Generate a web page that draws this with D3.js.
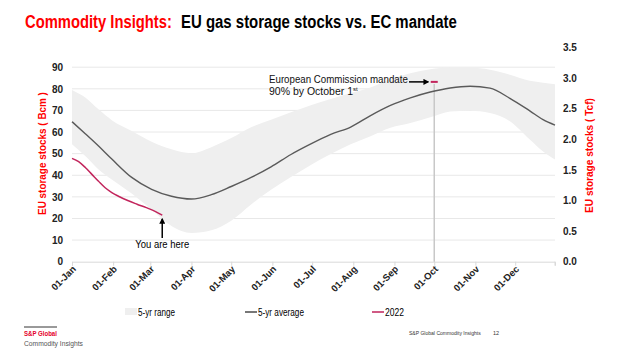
<!DOCTYPE html>
<html lang="en">
<head>
<meta charset="UTF-8">
<title>EU gas storage stocks vs. EC mandate</title>
<style>
  html, body { margin: 0; padding: 0; background: #fff; }
  svg { display: block; font-family: "Liberation Sans", Arial, sans-serif; }
</style>
</head>
<body>
<svg id="chart" width="624" height="351"></svg>
<script src="https://d3js.org/d3.v7.min.js"></script>
<script>
// day-of-year (0 = 01-Jan) sample points
const rangeDays = [0, 10, 20, 30, 45, 60, 75, 90, 105, 120, 135, 150, 165, 180, 195, 210, 225, 240, 255, 270, 285, 300, 315, 330, 345, 355, 364];
const rangeHigh = [79.5, 76.0, 70.5, 65.5, 60.5, 55.5, 52.0, 50.2, 53.0, 57.2, 62.2, 65.7, 69.2, 72.4, 75.3, 78.0, 80.6, 84.5, 87.2, 89.0, 89.8, 89.8, 88.8, 86.5, 83.7, 82.8, 82.1];
const rangeLow  = [54.3, 48.9, 42.7, 38.0, 31.5, 24.0, 16.5, 13.3, 14.5, 19.0, 26.5, 33.3, 39.2, 44.8, 49.8, 54.3, 58.1, 62.0, 64.2, 66.8, 69.5, 69.9, 68.8, 65.0, 56.5, 51.0, 47.3];
const avg5yr    = [64.8, 59.2, 53.5, 47.5, 39.0, 33.5, 30.3, 29.0, 31.0, 34.8, 39.0, 43.9, 49.6, 54.5, 58.9, 62.3, 67.6, 72.3, 75.8, 78.5, 80.4, 81.2, 80.3, 75.6, 69.8, 65.7, 63.2];

const days2022 = [0, 5, 10, 15, 20, 25, 30, 35, 42, 49, 56, 63, 68];
const vals2022 = [47.8, 46.3, 43.6, 40.4, 37.2, 34.2, 32.0, 30.3, 28.3, 26.6, 25.0, 23.2, 21.5];

const mandateDay = 273;      // 01-Oct
const mandateValue = 83.2;   // Bcm

const bcmTicks = [0, 10, 20, 30, 40, 50, 60, 70, 80, 90];
const tcfTicks = [0, 0.5, 1.0, 1.5, 2.0, 2.5, 3.0, 3.5];
const legendLabels = ["5-yr range", "5-yr average", "2022"];

const BCM_PER_TCF = 28.317;
const RED = "#ff0000";
const PINK = "#c2255c";

const svg = d3.select("#chart");
const plotL = 72, plotR = 555, plotT = 47.5, plotB = 261.7;

const start = new Date(2022, 0, 1);
const toDate = d => d3.timeDay.offset(start, d);

const x = d3.scaleTime().domain([start, new Date(2022, 11, 31)]).range([plotL, plotR]);
const yTcf = d3.scaleLinear().domain([0, 3.5]).range([plotB, plotT]);
const y = d3.scaleLinear().domain([0, 3.5 * BCM_PER_TCF]).range([plotB, plotT]);

// no narrow font installed: scale text horizontally to the width it has in the slide
function narrow(sel, px, py, w, rot) {
  const len = sel.node().getComputedTextLength();
  sel.attr("x", 0).attr("y", 0)
    .attr("transform", `translate(${px},${py})${rot ? ` rotate(${rot})` : ""} scale(${w / len},1)`);
}
function addText(px, py, w, str, size, opts = {}) {
  const t = svg.append("text").attr("font-size", size)
    .attr("font-weight", opts.bold ? "bold" : null)
    .attr("fill", opts.fill || "#000")
    .attr("text-anchor", opts.anchor || null)
    .text(str);
  narrow(t, px, py, w, opts.rot);
  return t;
}

// title
addText(25, 28, 147, "Commodity Insights:", 18.5, { bold: true, fill: RED });
addText(181, 28, 276, "EU gas storage stocks vs. EC mandate", 18.5, { bold: true });

// gridlines
svg.append("g").selectAll("line").data(bcmTicks.slice(1)).join("line")
  .attr("x1", plotL).attr("x2", plotR)
  .attr("y1", d => y(d)).attr("y2", d => y(d))
  .attr("stroke", "#e8e8e8").attr("stroke-width", 1);

// 5-yr range band
const rangeData = rangeDays.map((d, i) => ({ d, hi: rangeHigh[i], lo: rangeLow[i], avg: avg5yr[i] }));
svg.append("path").datum(rangeData)
  .attr("fill", "#efefef")
  .attr("d", d3.area().curve(d3.curveMonotoneX)
    .x(p => x(toDate(p.d))).y0(p => y(p.lo)).y1(p => y(p.hi)));

// x axis
const xAxis = svg.append("g").attr("transform", `translate(0,${plotB})`)
  .call(d3.axisBottom(x).ticks(d3.timeMonth.every(1)).tickFormat(d3.timeFormat("%d-%b")).tickSizeOuter(0).tickSize(4));
xAxis.select(".domain").attr("stroke", "#d9d9d9");
xAxis.selectAll(".tick line").attr("stroke", "#d9d9d9");
xAxis.selectAll(".tick text")
  .attr("font-family", null).attr("font-size", 9.5).attr("font-weight", "bold").attr("fill", "#222")
  .attr("text-anchor", "end").attr("dx", 0).attr("dy", 0).attr("y", 0)
  .attr("transform", "translate(4,8) rotate(-45)");
svg.append("line").attr("x1", plotR).attr("x2", plotR).attr("y1", plotB).attr("y2", plotB + 4).attr("stroke", "#d9d9d9");

// left axis
const yAxisL = svg.append("g").attr("transform", `translate(${plotL - 9},0)`)
  .call(d3.axisLeft(y).tickValues(bcmTicks).tickSize(0).tickPadding(0));
yAxisL.select(".domain").remove();
yAxisL.selectAll("text").attr("font-family", null).attr("font-size", 10).attr("font-weight", "bold").attr("fill", "#222");

// right axis
const yAxisR = svg.append("g").attr("transform", `translate(563,0)`)
  .call(d3.axisRight(yTcf).tickValues(tcfTicks).tickFormat(d3.format(".1f")).tickSize(0).tickPadding(0));
yAxisR.select(".domain").remove();
yAxisR.selectAll("text").attr("font-family", null).attr("font-size", 10).attr("font-weight", "bold").attr("fill", "#222");

// axis titles
addText(46, 153.5, 123, "EU storage stocks ( Bcm )", 10.5, { bold: true, fill: RED, anchor: "middle", rot: -90 });
addText(593, 155.5, 115, "EU storage stocks ( Tcf)", 10.5, { bold: true, fill: RED, anchor: "middle", rot: -90 });

// mandate marker
const mx = x(toDate(mandateDay)), my = y(mandateValue);
svg.append("line").attr("x1", mx).attr("x2", mx).attr("y1", my + 2).attr("y2", plotB)
  .attr("stroke", "#c8c8c8").attr("stroke-width", 1.5);
svg.append("line").attr("x1", mx - 3.5).attr("x2", mx + 3.5).attr("y1", my).attr("y2", my)
  .attr("stroke", PINK).attr("stroke-width", 2);

// 5-yr average
svg.append("path").datum(rangeData)
  .attr("fill", "none").attr("stroke", "#5a5a5a").attr("stroke-width", 1.4)
  .attr("d", d3.line().curve(d3.curveMonotoneX).x(p => x(toDate(p.d))).y(p => y(p.avg)));

// 2022
const data2022 = days2022.map((d, i) => ({ d, v: vals2022[i] }));
svg.append("path").datum(data2022)
  .attr("fill", "none").attr("stroke", PINK).attr("stroke-width", 1.5)
  .attr("d", d3.line().curve(d3.curveMonotoneX).x(p => x(toDate(p.d))).y(p => y(p.v)));

// arrows
svg.append("defs").append("marker").attr("id", "arrow").attr("viewBox", "0 0 10 10")
  .attr("refX", 8).attr("refY", 5).attr("markerWidth", 4).attr("markerHeight", 4)
  .attr("orient", "auto")
  .append("path").attr("d", "M0,0 L10,5 L0,10 z").attr("fill", "#000");

const lastX = x(toDate(days2022[days2022.length - 1]));
svg.append("line").attr("x1", lastX).attr("x2", lastX).attr("y1", 238).attr("y2", 219)
  .attr("stroke", "#000").attr("stroke-width", 1.5).attr("marker-end", "url(#arrow)");
addText(lastX, 248, 54, "You are here", 10, { anchor: "middle" });

svg.append("line").attr("x1", 409).attr("x2", mx - 6).attr("y1", my).attr("y2", my)
  .attr("stroke", "#000").attr("stroke-width", 1.5).attr("marker-end", "url(#arrow)");
addText(269, 82.5, 139, "European Commission mandate", 10.5, { fill: "#111" });
const ann2 = svg.append("text").attr("x", 269).attr("y", 94.5).attr("font-size", 10.5).attr("fill", "#111");
ann2.append("tspan").text("90% by October 1");
ann2.append("tspan").attr("dy", -4).attr("font-size", 6).text("st");

// legend
const legX = [125, 245, 372];
const legW = [37, 46, 19];
svg.append("rect").attr("x", legX[0]).attr("y", 308).attr("width", 12).attr("height", 7).attr("fill", "#efefef");
svg.append("line").attr("x1", legX[1]).attr("x2", legX[1] + 12).attr("y1", 312).attr("y2", 312).attr("stroke", "#777").attr("stroke-width", 2);
svg.append("line").attr("x1", legX[2]).attr("x2", legX[2] + 12).attr("y1", 312).attr("y2", 312).attr("stroke", "#d05a84").attr("stroke-width", 2);
legendLabels.forEach((lab, i) => addText(legX[i] + 13, 316, legW[i], lab, 10.5));

// footer
svg.append("line").attr("x1", 24).attr("x2", 57).attr("y1", 327).attr("y2", 327).attr("stroke", "#000").attr("stroke-width", 0.8);
addText(24, 335.5, 33, "S&P Global", 6.5, { bold: true, fill: "#e4002b" });
addText(24, 346, 59, "Commodity Insights", 7.5, { fill: "#555" });
addText(409, 335, 72, "S&P Global Commodity Insights", 5.5, { fill: "#333" });
svg.append("text").attr("x", 493).attr("y", 335).attr("font-size", 5.5).attr("fill", "#333").text("12");
</script>
</body>
</html>
